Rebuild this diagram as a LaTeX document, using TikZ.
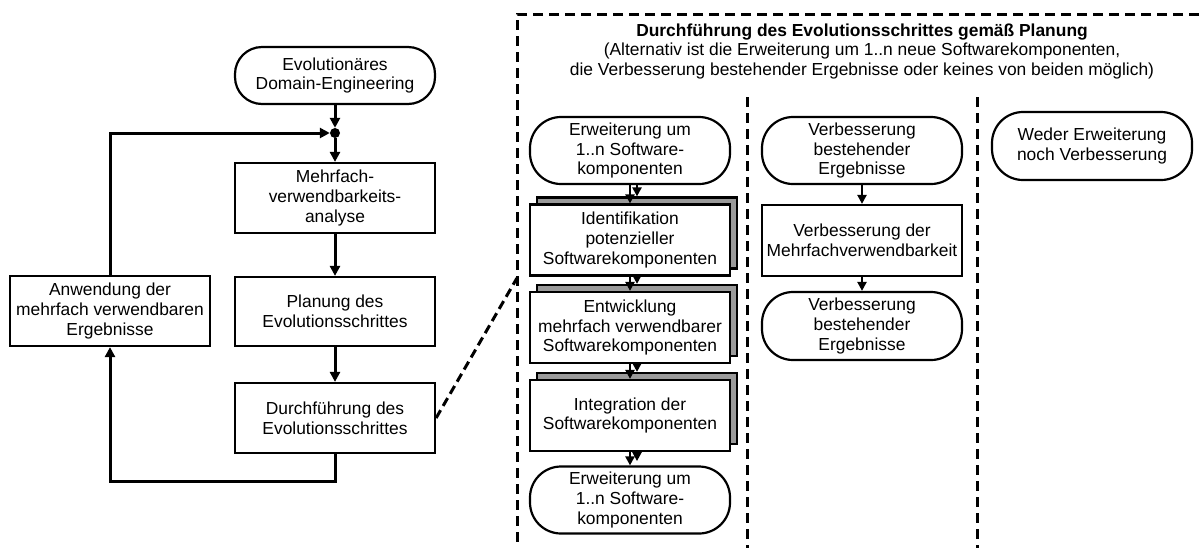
\documentclass[tikz,border=0pt]{standalone}
\usepackage{fontspec}
\setmainfont{Liberation Sans}
\usetikzlibrary{arrows.meta,shadows}
\definecolor{shadowgray}{HTML}{9A9A9A}
\begin{document}
\begin{tikzpicture}[x=1pt,y=-1pt,
  every node/.style={font=\fontsize{17.4}{19.8}\selectfont, align=center, inner sep=1pt},
  proc/.style={draw, line width=2.2pt, fill=white, minimum width=200pt, minimum height=70pt},
  term/.style={draw, line width=2.2pt, fill=white, rounded corners=31pt, minimum width=200pt, minimum height=67pt},
  stack/.style={proc, minimum height=71pt,
    copy shadow={shadow xshift=7pt, shadow yshift=7pt, fill=shadowgray, draw=black, line width=2.2pt}},
  flow/.style={line width=3pt, -{Triangle[length=10pt,width=10pt]}},
  sflow/.style={line width=2.2pt, -{Triangle[length=9pt,width=9pt]}},
  frame/.style={line width=3pt, dash pattern=on 10pt off 6pt},
]
\useasboundingbox (0,0) rectangle (1204,547);

% main evolution cycle
\node[term, minimum height=57pt, rounded corners=27pt] (t0) at (335,75.5) {Evolutionäres\\Domain-Engineering};
\node[circle, fill, inner sep=0pt, minimum size=10pt] (join) at (335,133) {};
\node[proc] (mva) at (335,198) {Mehrfach-\\verwendbarkeits-\\analyse};
\node[proc, minimum height=69pt] (plan) at (335,311.5) {Planung des\\Evolutionsschrittes};
\node[proc] (exec) at (335,418) {Durchführung des\\Evolutionsschrittes};
\node[proc] (apply) at (110,311) {Anwendung der\\mehrfach verwendbaren\\Ergebnisse};

\draw[flow] (t0) -- (join);
\draw[flow] (join) -- (mva);
\draw[flow] (mva) -- (plan);
\draw[flow] (plan) -- (exec);
\draw[flow] (exec.south) -- ++(0,27) -| (apply.south);
\draw[flow] (apply.north) |- (join.west);

% detail frame for the execution step
\coordinate (fl) at (517,278);
\draw[line width=3pt, dash pattern=on 9pt off 5pt] (exec.east) -- (fl);
\draw[frame] (1215,14) -- (517,14) -- (517,560);
\draw[frame] (747,97) -- (747,560);
\draw[frame] (977,97) -- (977,560);

\node[font=\bfseries\fontsize{17.4}{19.8}\selectfont, anchor=base] (ttl) at (862,36)
  {Durchführung des Evolutionsschrittes gemäß Planung};
\node[anchor=base] (sub1) at (862,55.5)
  {(Alternativ ist die Erweiterung um 1..n neue Softwarekomponenten,};
\node[anchor=base] (sub2) at (862,75)
  {die Verbesserung bestehender Ergebnisse oder keines von beiden möglich)};

% alternative 1: extension
\node[term] (e1) at (630,150.5) {Erweiterung um\\1..n Software-\\komponenten};
\node[stack] (id) at (630,240) {Identifikation\\potenzieller\\Softwarekomponenten};
\node[stack] (dev) at (630,327.5) {Entwicklung\\mehrfach verwendbarer\\Softwarekomponenten};
\node[stack] (int) at (630,415.5) {Integration der\\Softwarekomponenten};
\node[term] (e2) at (630,500) {Erweiterung um\\1..n Software-\\komponenten};

\draw[sflow] (e1) -- (id);
\draw[sflow] ([xshift=7pt]e1.south) -- ([xshift=7pt,yshift=7pt]id.north);
\draw[sflow] (id) -- (dev);
\draw[sflow] ([xshift=7pt]id.south) -- ([xshift=7pt,yshift=7pt]dev.north);
\draw[sflow] (dev) -- (int);
\draw[sflow] ([xshift=7pt]dev.south) -- ([xshift=7pt,yshift=7pt]int.north);
\draw[sflow] (int) -- (e2);
\coordinate (intend) at ([xshift=7pt,yshift=-9pt]int.south);
\draw[sflow] ([xshift=7pt]int.south) -- (intend);

% alternative 2: improvement
\node[term] (v1) at (862,150.5) {Verbesserung\\bestehender\\Ergebnisse};
\node[proc, minimum height=71pt] (v2) at (862,240.5) {Verbesserung der\\Mehrfachverwendbarkeit};
\node[term, minimum height=68pt] (v3) at (862,326) {Verbesserung\\bestehender\\Ergebnisse};
\draw[sflow] (v1) -- (v2);
\draw[sflow] (v2) -- (v3);

% alternative 3: neither
\node[term, minimum height=68pt] (w) at (1092,146) {Weder Erweiterung\\noch Verbesserung};
\end{tikzpicture}
\end{document}
